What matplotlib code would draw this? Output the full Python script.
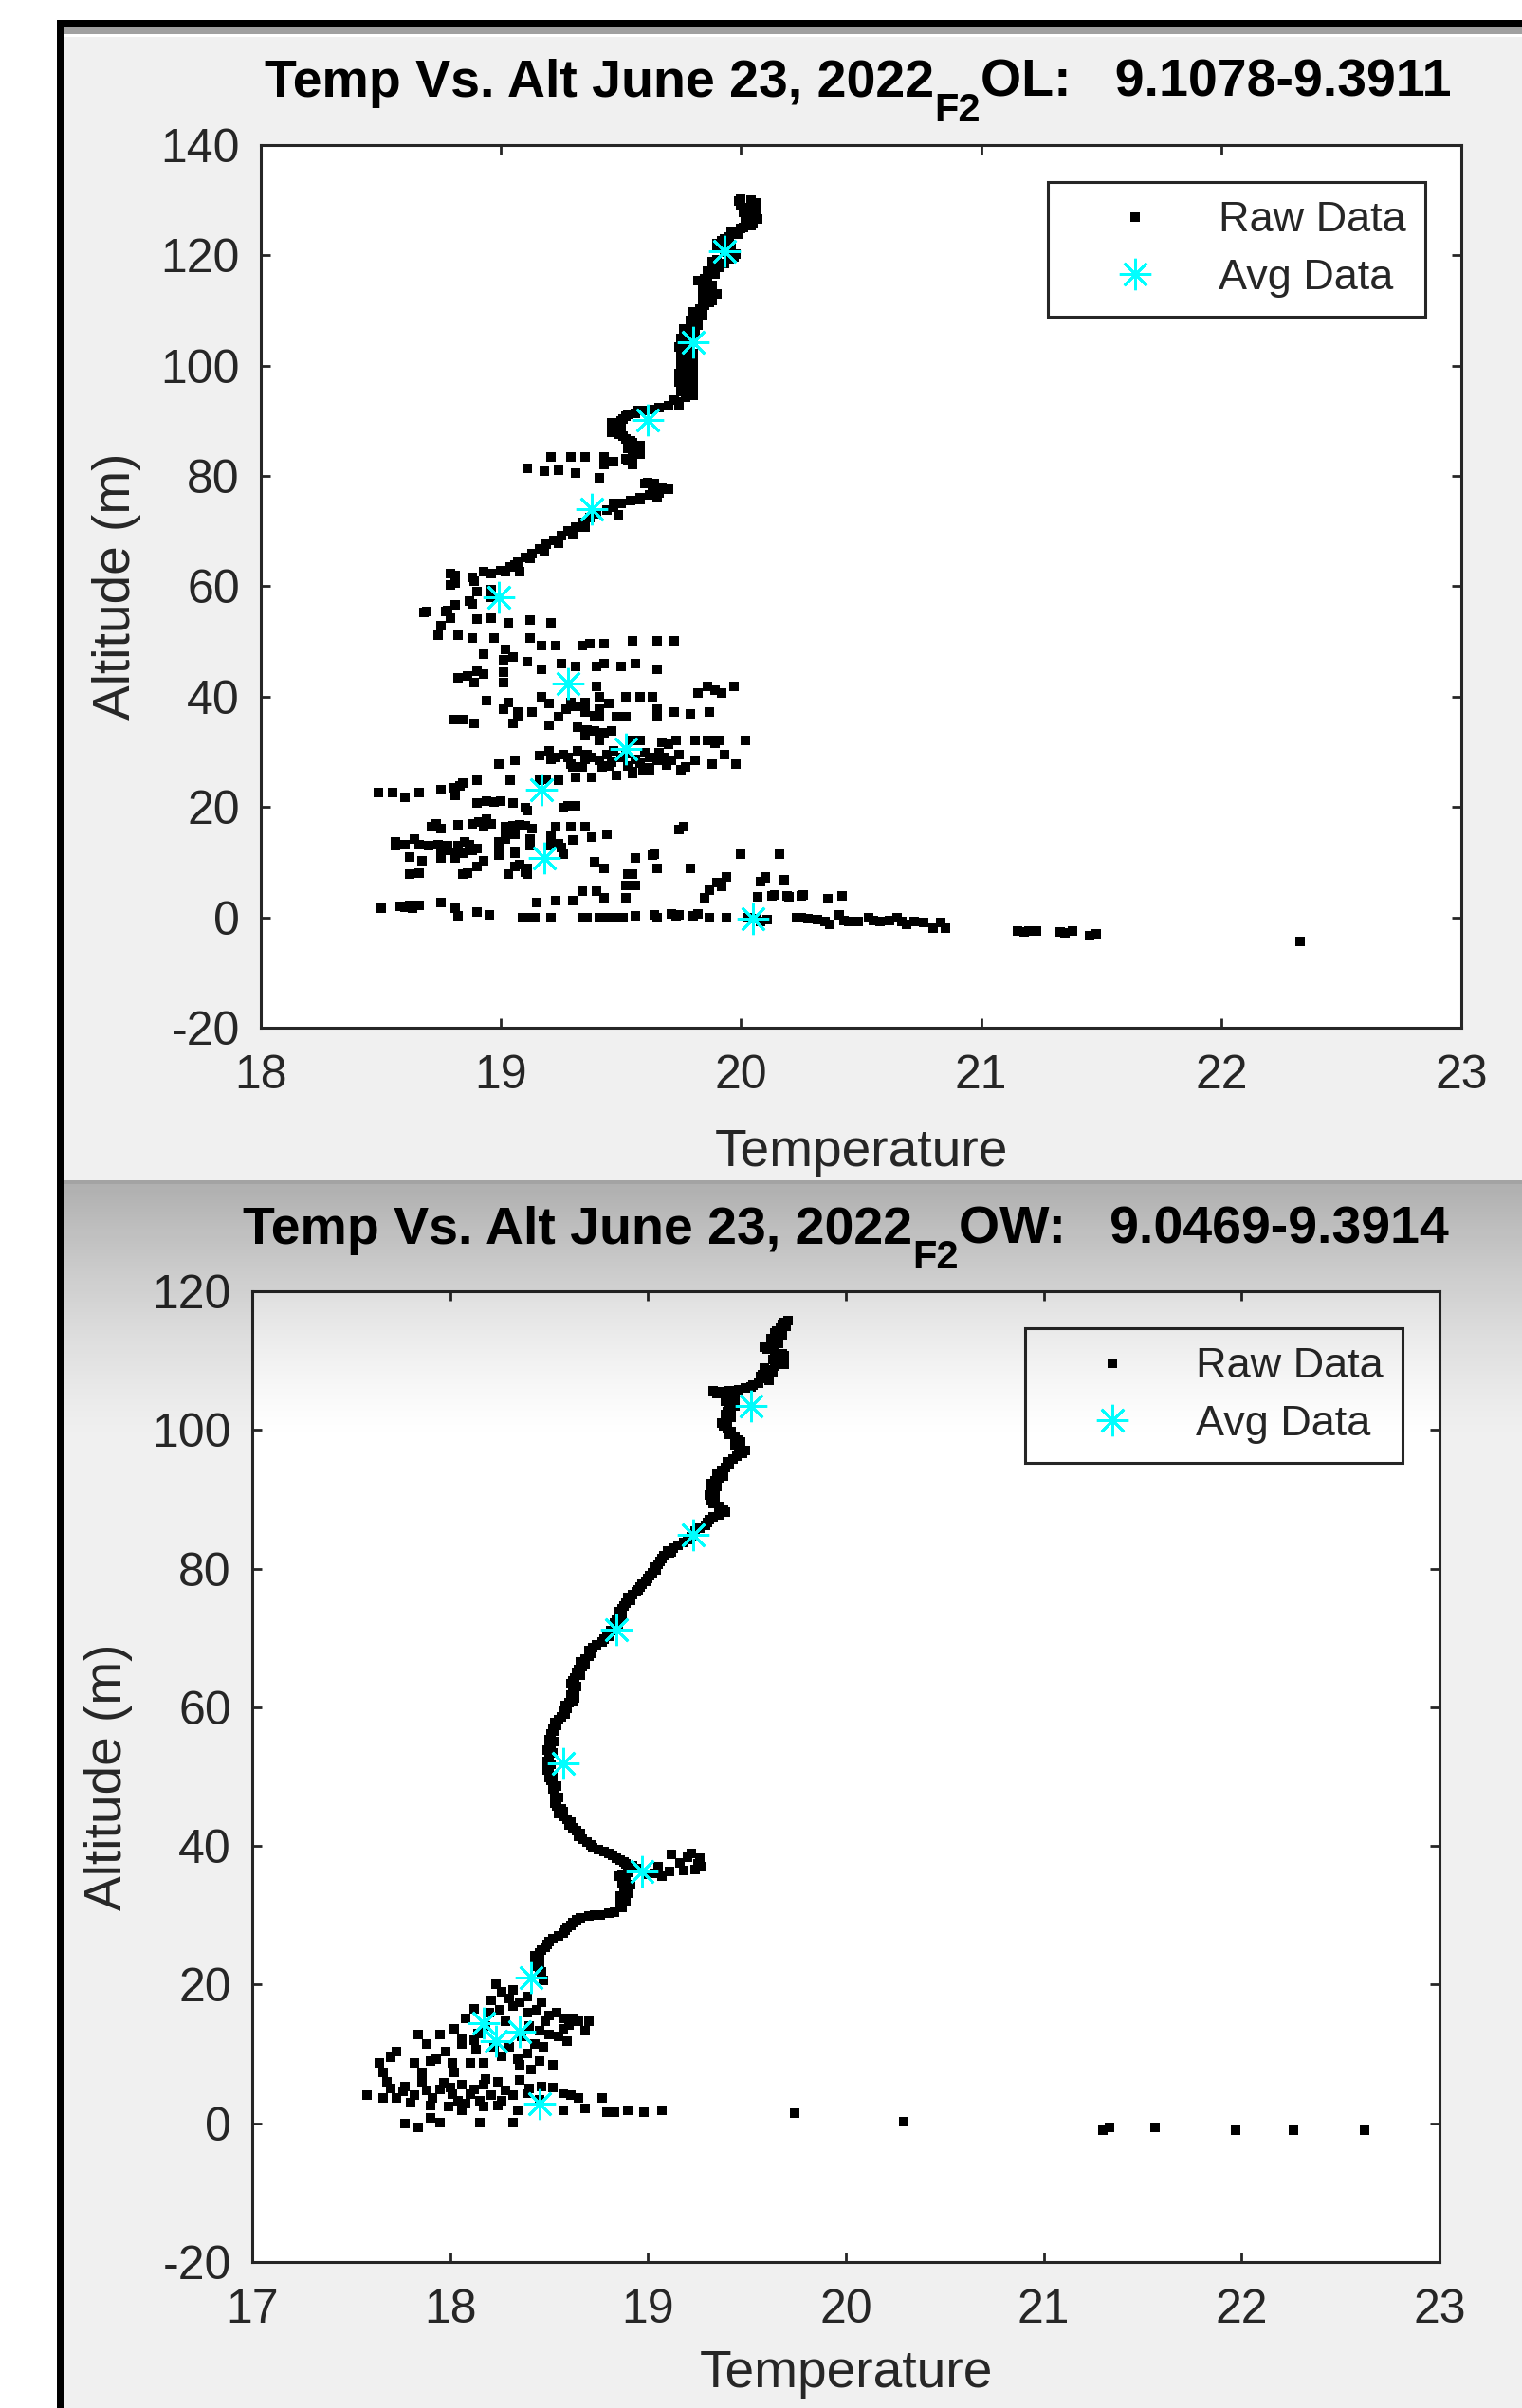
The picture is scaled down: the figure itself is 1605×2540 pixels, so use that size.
import matplotlib
matplotlib.use("Agg")
import matplotlib.pyplot as plt
from matplotlib.patches import Rectangle
from matplotlib.lines import Line2D
import numpy as np

# ---------------- DATA (Temperature, Altitude) ----------------
# Top panel (OL)
top_title_parts = ["Temp Vs. Alt June 23, 2022", "F2", "OL:   9.1078-9.3911"]
top_xticks = [18, 19, 20, 21, 22, 23]
top_yticks = [-20, 0, 20, 40, 60, 80, 100, 120, 140]

top_track = [(20.04,130.0),(20.06,129.6),(20.00,129.2),(20.03,128.6),(20.06,128.0),(20.05,127.2),(20.07,126.6),
    (20.02,126.0),(20.04,125.4),(20.00,124.8),(19.98,124.2),(19.95,123.4),(19.92,122.6),(19.96,122.0),(19.90,121.4),
    (19.94,120.6),(19.97,119.8),(19.90,119.2),(19.93,118.6),(19.88,118.0),(19.86,117.2),(19.89,116.6),(19.85,115.8),
    (19.84,115.0),(19.86,114.2),(19.88,113.4),(19.86,112.6),(19.88,111.8),(19.85,111.0),(19.83,110.2),(19.82,109.4),
    (19.82,108.6),(19.80,107.8),(19.80,107.0),(19.78,106.2),(19.80,105.4),(19.77,104.6),(19.79,103.8),(19.77,103.0),
    (19.80,102.2),(19.77,101.4),(19.79,100.6),(19.77,99.8),(19.79,99.0),(19.76,98.2),(19.78,97.4),(19.76,96.6),
    (19.79,95.8),(19.78,95.0),(19.77,94.2),(19.74,93.4),(19.70,92.8),(19.66,92.4),(19.60,91.8),(19.56,91.4),
    (19.52,90.8),(19.50,90.0),(19.48,89.2),(19.48,88.4),(19.49,87.6),(19.52,86.8),(19.55,86.0),(19.56,85.2),
    (19.56,84.4),(19.55,83.6),(19.53,82.8),
    (19.60,78.6),(19.63,78.2),(19.67,78.0),(19.70,77.6),(19.66,77.0),(19.62,76.6),(19.58,76.0),(19.54,75.6),
    (19.50,75.0),(19.47,74.4),(19.44,73.8),(19.40,73.2),(19.37,72.4),(19.34,71.6),(19.31,70.8),(19.28,70.0),
    (19.25,69.2),(19.22,68.4),(19.19,67.6),(19.16,66.8),(19.13,66.0),(19.10,65.2),(19.07,64.4),(19.04,63.6),
    (19.00,62.8),(18.96,62.4),(19.35,70.8),(19.30,69.4),(19.24,67.8),(19.18,66.4),(19.12,65.0),(19.06,63.8),
    (19.61,78.9),(19.58,75.7),(19.49,72.9)]

top_track_edge = [(20.00,130.2),(19.99,129.8),(20.05,129.0),(20.01,127.8),(20.02,127.0),(20.05,125.8),(20.01,125.0),
    (19.96,124.4),(19.99,123.8),(19.93,123.0),(19.90,122.2),(19.93,121.0),(19.98,120.2),(19.95,119.4),(19.88,118.8),
    (19.91,117.8),(19.88,117.0),(19.86,116.2),(19.82,115.4),(19.88,114.6),(19.84,113.6),(19.90,113.0),(19.84,112.2),
    (19.87,111.4),(19.84,110.6),(19.80,109.8),(19.84,109.0),(19.79,108.2),(19.82,107.4),(19.76,106.6),(19.81,105.8),
    (19.75,105.0),(19.80,104.2),(19.74,103.4),(19.78,102.6),(19.75,101.8),(19.80,101.0),(19.75,100.2),(19.80,99.4),
    (19.74,98.6),(19.80,97.8),(19.74,97.0),(19.80,96.2),(19.75,95.4),(19.80,94.6),(19.72,93.8),(19.74,92.9),
    (19.63,92.0),(19.57,91.9),(19.53,91.2),(19.51,90.4),(19.46,89.6),(19.50,88.8),(19.46,88.0),(19.51,87.2),
    (19.54,86.4),(19.58,85.6),(19.53,85.0),(19.58,84.0),(19.52,83.2)]

top_scatter = [(19.21,83.4),(19.29,83.4),(19.35,83.4),(19.43,83.4),(19.11,81.4),(19.18,80.9),(19.24,81.1),(19.31,80.6),
    (19.41,79.7),(19.43,82.0),(19.47,82.6),(19.55,82.0),(19.64,78.6),(19.65,76.3),(19.47,75.1),
    (18.81,62.0),(18.88,61.7),(18.93,62.6),(18.79,60.3),(18.90,59.1),(18.96,58.0),(18.88,56.9),(18.78,55.7),
    (18.69,55.4),(18.79,62.3),(19.02,62.6),(19.08,62.6),(18.81,60.6),(18.89,60.9),(18.96,59.4),(18.87,57.4),
    (18.81,56.6),(18.68,55.2),(18.77,55.4),(18.79,54.3),(18.90,54.0),(18.96,54.3),(19.03,53.3),(19.12,53.9),(19.21,53.3),
    (18.75,52.9),(18.74,51.2),(18.82,51.2),(18.88,50.7),(18.97,50.7),(19.12,50.7),
    (19.17,49.2),(19.23,49.2),(19.34,49.3),(19.37,49.6),(19.43,49.6),(19.55,50.1),(19.65,50.1),(19.72,50.1),
    (18.93,47.7),(19.02,48.6),(19.05,47.2),(19.01,46.6),(19.11,46.3),
    (19.17,45.0),(19.25,46.0),(19.31,45.5),(19.40,45.5),(19.43,46.0),(19.50,45.5),(19.56,46.0),(19.65,45.0),
    (18.90,44.6),(18.82,43.5),(18.89,42.6),(19.01,44.4),(19.01,42.5),(18.86,43.8),(18.93,44.1),
    (19.40,41.9),(19.82,40.6),(19.86,41.9),(19.92,40.6),(19.97,41.8),(19.89,41.2),
    (18.94,39.3),(19.03,38.9),(19.01,37.8),(19.17,39.9),(19.20,38.7),(19.27,37.8),(19.31,38.2),(19.35,38.9),
    (19.41,39.9),(19.41,37.8),(19.45,38.7),(19.52,39.9),(19.58,39.9),(19.63,39.9),(19.29,38.9),
    (19.07,37.2),(19.07,36.4),(19.13,37.2),(19.24,36.4),(19.35,37.2),(19.41,36.4),(19.52,36.4),(19.65,37.8),
    (19.65,36.4),(19.72,37.2),(19.79,36.8),(19.87,37.2),(19.48,36.4),(19.39,36.6),
    (18.80,35.8),(18.84,35.8),(18.89,35.2),(19.05,35.2),(19.20,34.8),
    (19.32,34.4),(19.39,33.8),(19.43,33.5),(19.46,33.8),(19.36,34.0),(19.35,32.9),(19.41,32.1),
    (19.55,32.1),(19.58,32.1),(19.67,31.8),(19.73,32.1),(19.81,32.1),(19.86,32.1),(19.91,32.1),(20.02,32.1),
    (19.88,32.1),(19.89,31.6),(19.70,31.4),
    (19.20,30.1),(19.26,29.5),(19.32,30.1),(19.38,28.9),(19.44,29.5),(19.50,28.9),(19.56,28.7),(19.62,28.9),
    (19.68,28.9),(19.74,29.5),(19.21,28.7),(19.29,27.8),(19.35,28.7),(19.41,28.4),(19.47,30.1),(19.53,27.5),
    (19.59,26.7),(19.65,28.4),(19.71,28.4),(19.77,27.2),(19.30,27.2),(19.42,27.2),(19.55,26.1),(19.75,26.7),
    (19.23,29.0),(19.28,28.9),(19.36,29.5),(19.46,28.2),(19.52,29.6),(19.60,29.8),(19.66,29.8),(19.58,27.9),
    (19.69,27.6),(19.16,29.3),(19.45,27.4),(19.34,27.3),(19.62,27.1),
    (18.99,27.8),(19.06,28.5),(19.81,28.5),(19.93,29.5),(19.88,27.8),(19.98,27.8),
    (18.90,24.8),(19.04,24.8),(19.24,24.8),(19.31,25.4),(19.38,25.4),(19.48,25.8),(19.55,26.4),(19.62,26.7),
    (19.16,24.9),(19.19,25.0),
    (18.49,22.7),(18.55,22.7),(18.60,21.7),(18.66,22.7),(18.75,23.2),(18.81,22.1),(18.83,23.8),(18.84,24.4),(18.80,23.4),
    (18.90,20.7),(18.94,21.0),(19.00,21.0),(19.05,20.7),(19.11,19.3),(19.26,19.9),(19.31,20.2),(18.97,20.9),
    (19.10,19.9),(19.28,20.3),
    (18.71,16.4),(18.75,16.1),(18.82,16.7),(18.88,16.9),(18.94,17.8),(18.93,16.4),(19.02,16.5),(19.08,16.7),
    (19.13,16.1),(19.23,16.5),(19.29,16.5),(19.35,16.5),(19.74,16.0),(18.91,17.3),(18.96,16.9),(19.05,16.6),
    (19.10,16.6),(18.73,16.9),(19.76,16.4),
    (19.02,15.0),(19.06,15.0),(19.21,14.8),(19.38,14.6),(19.44,15.0),(19.02,14.2),
    (18.56,13.6),(18.56,13.0),(18.64,14.2),(18.70,13.0),(18.78,13.0),(18.85,13.6),(18.90,12.4),(18.99,13.0),
    (19.06,11.9),(19.12,14.2),(19.21,13.0),(19.25,12.7),(19.30,14.0),(19.12,13.0),(18.60,13.2),(18.66,13.1),
    (18.74,13.2),(18.82,13.0),(18.87,13.1),(18.99,13.6),(19.24,13.4),
    (18.75,11.6),(18.81,11.6),(18.84,11.6),(18.99,11.3),(19.06,11.6),(18.78,12.1),(18.88,12.2),
    (18.62,11.0),(18.67,10.2),(18.75,10.7),(18.81,10.7),(18.93,10.2),(18.90,9.3),(19.06,9.3),(19.11,8.8),
    (19.26,11.4),(19.39,10.0),(19.43,8.8),(19.56,10.8),(19.63,11.2),(19.65,8.8),(19.79,8.8),(20.00,11.4),
    (20.16,11.4),(19.64,11.4),(19.08,9.6),
    (18.62,7.9),(18.84,7.9),(19.03,7.9),(19.11,7.9),(19.53,7.9),(18.66,8.0),(18.86,8.0),(19.10,8.2),(19.55,7.9),
    (19.34,4.7),(19.40,4.7),(19.43,3.6),(19.52,3.6),(19.52,5.8),(19.56,5.8),(19.85,3.6),(19.87,5.0),(19.92,5.6),
    (19.94,7.3),(20.08,6.5),(20.10,7.3),(20.18,6.8),(20.20,3.8),(20.26,4.1),(20.07,3.8),(20.14,4.1),(20.13,3.9),
    (20.19,3.9),(20.25,3.9),(20.36,3.3),(20.42,3.9),(20.10,7.1),(20.18,6.6),(19.90,6.3),
    (19.15,2.7),(19.23,3.0),(19.30,3.0),
    (18.50,1.6),(18.58,2.0),(18.63,1.6),(18.66,2.2),(18.75,2.6),(18.81,1.6),(18.82,0.2),(18.90,1.0),(18.95,0.5),
    (18.60,1.8),(18.62,2.1)]

top_surface = [(19.09,0.0),(19.14,0.0),(19.21,0.0),(19.34,0.0),(19.41,0.0),(19.47,0.0),(19.51,0.0),(19.56,0.2),
    (19.64,0.5),(19.65,-0.1),(19.71,0.7),(19.74,0.5),(19.80,0.2),(19.82,0.7),(19.87,0.0),(19.94,0.0),(20.03,0.0),
    (20.08,-0.7),(20.11,-0.4),(20.23,0.0),(19.11,0.0),(19.36,0.0),(19.44,0.0),(19.49,0.0),(19.73,0.2),(20.06,-0.3),
    (20.25,-0.1),(20.32,-0.4),(20.37,-1.3),(20.41,0.4),(20.45,-0.7),(20.49,-0.7),(20.53,-0.1),(20.58,-0.7),
    (20.65,-0.1),(20.69,-1.3),(20.72,-0.7),(20.80,-1.9),(20.85,-1.9),(20.83,-1.0),(20.28,-0.2),(20.35,-0.8),
    (20.43,-0.5),(20.55,-0.6),(20.62,-0.5),(20.67,-0.8),(20.76,-1.0),
    (21.20,-2.4),(21.15,-2.4),(21.23,-2.4),(21.33,-2.6),(21.38,-2.4),(21.45,-3.4),(21.48,-3.0),(22.33,-4.4),
    (21.35,-2.9),(21.18,-2.6)]

top_avg_T = [19.93, 19.80, 19.61, 19.38, 18.99, 19.28, 19.52, 19.17, 19.18, 20.05]
top_avg_A = [120.8, 104.3, 90.1, 74.0, 58.0, 42.3, 30.5, 23.1, 10.8, -0.3]

# Bottom panel (OW)
bot_title_parts = ["Temp Vs. Alt June 23, 2022", "F2", "OW:   9.0469-9.3914"]
bot_xticks = [17, 18, 19, 20, 21, 22, 23]
bot_yticks = [-20, 0, 20, 40, 60, 80, 100, 120]

bot_track = [(19.71,115.7),(19.68,115.2),(19.67,114.6),(19.64,114.0),(19.65,113.4),(19.62,112.8),(19.63,112.2),
    (19.60,111.6),(19.68,111.0),(19.66,110.4),(19.67,109.8),(19.64,109.2),(19.61,108.6),(19.58,108.0),(19.60,107.4),
    (19.56,106.8),(19.52,106.2),(19.46,105.8),(19.37,105.5),(19.33,105.6),(19.40,105.0),(19.44,104.4),(19.41,103.8),
    (19.42,103.0),(19.39,102.2),(19.40,101.4),(19.38,100.6),(19.42,99.8),(19.44,99.0),(19.47,98.2),(19.46,97.4),
    (19.48,96.6),(19.43,95.8),(19.41,95.0),(19.37,94.2),(19.38,93.4),(19.34,92.6),(19.35,91.8),(19.32,91.0),
    (19.34,90.2),(19.33,89.4),(19.38,88.6),(19.36,87.8),(19.31,87.0),(19.29,86.2),(19.24,85.4),(19.22,84.6),
    (19.18,83.8),(19.13,83.0),(19.10,82.6),(19.11,82.2),(19.07,81.4),(19.05,80.6),(19.04,79.8),(19.01,79.0),
    (18.99,78.2),(18.96,77.4),(18.94,76.6),(18.90,75.8),(18.89,75.0),(18.87,74.2),(18.86,73.4),(18.84,72.6),
    (18.85,71.8),(18.81,71.0),(18.80,70.2),(18.77,69.4),(18.72,68.6),(18.71,67.8),(18.68,67.0),(18.68,66.2),
    (18.65,65.4),(18.66,64.6),(18.62,63.8),(18.64,63.0),(18.62,62.2),(18.63,61.4),(18.60,60.6),(18.59,59.8),
    (18.58,59.0),(18.55,58.2),(18.54,57.4),(18.53,56.6),(18.51,55.8),(18.53,55.0),(18.50,54.2),(18.52,53.4),
    (18.50,52.6),(18.51,51.8),(18.49,51.0),(18.52,50.2),(18.51,49.4),(18.54,48.6),(18.53,47.8),(18.55,47.0),
    (18.53,46.2),(18.56,45.4),(18.55,44.6),(18.59,43.8),(18.60,43.0),(18.64,42.2),(18.65,41.4),(18.69,40.6),
    (18.72,39.8),(18.78,39.2),(18.82,38.6),(18.86,38.0),(18.89,37.4),(18.94,36.8),(18.90,36.2),(18.85,35.6),
    (18.89,35.0),(18.91,34.4),(18.88,33.6),(18.86,32.8),(18.89,32.0),(18.87,31.2),(18.83,30.4),(18.76,30.1),
    (18.70,29.9),(18.64,29.4),(18.61,28.6),(18.58,27.8),(18.55,27.0),(18.50,26.2),(18.48,25.4),(18.45,24.6),
    (18.44,23.8),(18.43,23.0),(18.45,22.2),(18.46,21.4),(18.47,20.6),
    (19.12,38.8),(19.20,38.4),(19.25,37.4),(19.18,36.5),(19.11,36.3),(19.27,37.0),(19.03,36.1),(19.07,35.6),
    (19.16,37.6),(19.22,38.9),(19.24,36.6),(19.05,37.0),(18.99,35.9),(19.26,38.3)]

bot_track_edge = [(19.69,115.5),(19.70,114.9),(19.65,114.3),(19.68,113.7),(19.62,113.1),(19.66,112.5),(19.59,111.9),
    (19.64,111.3),(19.69,110.7),(19.63,110.1),(19.69,109.5),(19.59,108.9),(19.63,108.3),(19.57,107.7),(19.61,107.1),
    (19.53,106.5),(19.49,106.0),(19.41,105.7),(19.35,105.2),(19.43,104.7),(19.39,104.1),(19.44,103.4),(19.40,102.6),
    (19.42,101.8),(19.37,101.0),(19.40,100.2),(19.41,99.4),(19.46,98.6),(19.44,97.8),(19.49,97.0),(19.45,96.2),
    (19.40,95.4),(19.39,94.6),(19.35,93.8),(19.36,93.0),(19.32,92.2),(19.34,91.4),(19.31,90.6),(19.32,89.8),
    (19.36,89.0),(19.39,88.2),(19.33,87.4),(19.30,86.6),(19.26,85.8),(19.23,85.0),(19.20,84.2),(19.15,83.4),
    (19.12,82.4),(19.08,81.8),(19.06,81.0),(19.03,80.2),(19.02,79.4),(19.00,78.6),(18.97,77.8),(18.95,77.0),
    (18.92,76.2),(18.91,75.4),(18.88,74.6),(18.85,73.8),(18.87,73.0),(18.83,72.2),(18.83,71.4),(18.79,70.6),
    (18.78,69.8),(18.74,69.0),(18.70,68.2),(18.70,67.4),(18.66,66.6),(18.67,65.8),(18.64,65.0),(18.63,64.2),
    (18.61,63.4),(18.63,62.6),(18.61,61.8),(18.62,61.0),(18.58,60.2),(18.57,59.4),(18.56,58.6),(18.53,57.8),
    (18.52,57.0),(18.51,56.2),(18.50,55.4),(18.51,54.6),(18.49,53.8),(18.50,53.0),(18.49,52.2),(18.49,51.4),
    (18.50,50.6),(18.50,49.8),(18.52,49.0),(18.52,48.2),(18.53,47.4),(18.54,46.6),(18.54,45.8),(18.57,45.0),
    (18.57,44.2),(18.61,43.4),(18.62,42.6),(18.66,41.8),(18.67,41.0),(18.71,40.2),(18.75,39.5),(18.80,38.9),
    (18.84,38.3),(18.88,37.7),(18.92,37.1),(18.87,35.8),(18.87,34.7),(18.90,33.2),(18.88,32.4),(18.86,31.6),
    (18.80,30.3),(18.73,30.0),(18.66,29.6),(18.62,29.0),(18.59,28.2),(18.57,27.4),(18.52,26.6),(18.49,25.8),
    (18.46,25.0),(18.43,24.2),(18.45,23.4),(18.44,22.6),(18.46,21.8)]

bot_cluster = [(18.23,20.1),(18.32,19.2),(18.39,18.3),(18.21,17.8),(18.32,16.9),(18.46,17.4),(18.12,16.5),
    (18.39,16.0),(18.54,16.0),(18.08,15.1),(18.28,14.7),(18.48,14.7),(18.57,15.1),(18.65,14.7),(18.70,14.7),
    (18.68,13.3),(18.57,13.7),(18.50,12.8),(18.59,11.9),(18.43,11.5),(18.02,13.7),(17.95,12.8),(17.84,12.8),
    (17.88,11.5),(18.06,11.5),(18.13,10.6),(17.73,10.3),(18.39,10.1),(18.26,9.7),(18.17,8.7),(18.10,8.7),
    (18.01,8.7),(17.93,9.2),(17.82,8.7),(17.64,8.7),(17.66,7.4),(17.86,7.4),(18.02,7.4),(18.35,8.5),(18.52,8.5),
    (18.41,7.8),(17.68,6.0),(17.77,5.3),(17.86,6.0),(17.97,5.8),(18.06,5.5),(18.17,5.5),(18.24,6.0),(18.35,6.2),
    (18.46,5.3),(17.58,4.0),(17.66,3.7),(17.73,3.7),(17.82,4.0),(17.91,3.7),(18.01,4.2),(18.10,4.2),(18.21,4.0),
    (18.32,4.0),(18.39,4.4),(18.57,4.4),(18.65,3.7),(18.77,3.7),(17.90,2.6),(17.99,2.4),(18.06,1.9),(18.17,2.4),
    (18.24,2.6),(18.34,1.9),(18.57,1.9),(18.68,2.1),(18.79,1.6),(18.83,1.6),(18.90,1.9),(18.98,1.6),(19.07,1.9),
    (19.74,1.4),(17.77,-0.1),(17.84,-0.6),(17.90,0.8),(17.95,0.1),(18.15,0.1),(18.32,0.1),
    (18.26,18.9),(18.30,18.0),(18.35,17.5),(18.25,16.4),(18.20,15.9),(18.44,16.4),(18.50,15.5),(18.62,15.2),
    (18.40,14.0),(18.45,13.4),(18.60,14.2),(18.36,12.6),(18.14,13.0),(18.06,12.2),(18.30,11.0),(18.47,11.0),
    (18.55,12.5),(18.18,14.0),(18.12,12.0),(18.22,10.9),(18.34,9.2),(18.45,9.0),(17.90,9.0),(17.70,9.5),
    (17.98,10.3),(17.88,4.8),(17.95,4.9),(18.00,5.1),(18.12,4.9),(18.15,3.3),(18.04,3.2),(18.28,4.8),(18.40,5.0),
    (18.52,5.2),(18.61,4.0),(17.76,4.6),(17.70,5.0),(18.08,2.9),(18.26,3.3),(18.18,6.4),(17.80,3.0),(18.45,3.4)]

bot_outliers = [(20.29,0.2),(21.30,-1.0),(21.33,-0.6),(21.56,-0.6),(21.97,-1.0),(22.26,-1.0),(22.62,-1.0)]

bot_avg_T = [19.52, 19.23, 18.84, 18.57, 18.97, 18.41, 18.17, 18.35, 18.23, 18.45]
bot_avg_A = [103.5, 84.8, 71.2, 51.9, 36.3, 21.0, 14.4, 13.2, 11.9, 2.8]

legend_labels = ["Raw Data", "Avg Data"]

# ---------------- STYLE ----------------
plt.rcParams['font.family'] = ['Liberation Sans', 'DejaVu Sans']
plt.rcParams['axes.unicode_minus'] = False

W, H = 1605, 2540
fig = plt.figure(figsize=(W / 100, H / 100), dpi=100)
fig.patch.set_facecolor('white')

AX_COL = '#262626'
BG = '#f0f0f0'
RAW_MS = 6.5


def rect(x0, y0, x1, y1, color, z=-5):
    fig.add_artist(Rectangle((x0 / W, 1 - y1 / H), (x1 - x0) / W, (y1 - y0) / H,
                             transform=fig.transFigure, facecolor=color,
                             edgecolor='none', zorder=z))


# window chrome
rect(68, 37, W, H, BG)
rect(68, 29, W, 36, '#a0a0a0')
rect(68, 36, W, 39, '#ffffff')
rect(60, 21, W, 29, '#000000')
rect(60, 21, 68, H, '#000000')
rect(68, 1245, W, 1249, '#a3a3a3')


def make_axes(box, xlim, ylim, xticks, yticks):
    x0, y0, x1, y1 = box
    ax = fig.add_axes([x0 / W, 1 - y1 / H, (x1 - x0) / W, (y1 - y0) / H])
    ax.set_facecolor('white')
    ax.set_xlim(*xlim)
    ax.set_ylim(*ylim)
    ax.set_xticks(xticks)
    ax.set_yticks(yticks)
    for s in ax.spines.values():
        s.set_color(AX_COL)
        s.set_linewidth(2.2)
    ax.tick_params(direction='in', length=7.5, width=2.0, color=AX_COL,
                   labelsize=36, labelcolor=AX_COL, top=True, right=True)
    ax.tick_params(axis='x', pad=20)
    ax.tick_params(axis='y', pad=16)
    return ax


def plot_panel(ax, groups, avg_T, avg_A):
    for g in groups:
        T = [p[0] for p in g]
        A = [p[1] for p in g]
        ax.plot(T, A, ls='none', marker='s', ms=RAW_MS, mew=0, color='black', zorder=3)
    ax.plot(avg_T, avg_A, ls='none', marker=(8, 2, 0), ms=24, mew=2.0,
            color='#00ffff', zorder=4)


def add_legend(ax, anchor):
    h1 = Line2D([], [], ls='none', marker='s', ms=7.5, mew=0, color='black')
    h2 = Line2D([], [], ls='none', marker=(8, 2, 0), ms=24, mew=2.0, color='#00ffff')
    leg = ax.legend([h1, h2], legend_labels, loc='upper right', bbox_to_anchor=anchor,
                    fontsize=32.4, frameon=True, fancybox=False, framealpha=1,
                    edgecolor=AX_COL, borderaxespad=0, borderpad=0.45,
                    labelspacing=0.43, handlelength=3.2, handletextpad=0.35,
                    numpoints=1)
    leg.get_frame().set_linewidth(2.2)
    for t in leg.get_texts():
        t.set_color(AX_COL)
    return leg


def compose_title(cx, base_y, parts, size=40.0, sub_size=30.0, sub_drop=26):
    r = fig.canvas.get_renderer()
    specs = [(parts[0], size, 0), (parts[1], sub_size, sub_drop), (parts[2], size, 0)]
    texts, widths = [], []
    for s, fs, dy in specs:
        t = fig.text(0, 0, s, fontsize=fs, fontweight='bold', color='black',
                     ha='left', va='baseline')
        widths.append(t.get_window_extent(r).width)
        texts.append(t)
    x = cx - sum(widths) / 2
    for t, w, (s, fs, dy) in zip(texts, widths, specs):
        t.set_position((x / W, 1 - (base_y + dy) / H))
        x += w


# top axes
ax1 = make_axes((275, 153, 1541, 1084), (18, 23), (-20, 140), top_xticks, top_yticks)
plot_panel(ax1, [top_track, top_track_edge, top_scatter, top_surface], top_avg_T, top_avg_A)
add_legend(ax1, ((1503 - 275) / 1266, 1 - (192 - 153) / 931))
ax1.set_xlabel('Temperature', fontsize=39.6, color=AX_COL, va='top')
ax1.xaxis.set_label_coords(0.5, -(1190 - 1084) / 931)
ax1.set_ylabel('Altitude (m)', fontsize=39.6, color=AX_COL, va='center')
ax1.yaxis.set_label_coords((123 - 275) / 1266, 0.5)
compose_title(905, 102, top_title_parts)

# bottom axes
ax2 = make_axes((266, 1362, 1518, 2386), (17, 23), (-20, 120), bot_xticks, bot_yticks)
plot_panel(ax2, [bot_track, bot_track_edge, bot_cluster, bot_outliers], bot_avg_T, bot_avg_A)
add_legend(ax2, ((1479 - 266) / 1252, 1 - (1401 - 1362) / 1024))
ax2.set_xlabel('Temperature', fontsize=39.6, color=AX_COL, va='top')
ax2.xaxis.set_label_coords(0.5, -(2478 - 2386) / 1024)
ax2.set_ylabel('Altitude (m)', fontsize=39.6, color=AX_COL, va='center')
ax2.yaxis.set_label_coords((114 - 266) / 1252, 0.5)
compose_title(892, 1312, bot_title_parts)

# shadow gradient below the window separator
ov = fig.add_axes([68 / W, 1 - 1525 / H, (W - 68) / W, (1525 - 1249) / H], zorder=10)
ov.axis('off')
n = 276
t = np.linspace(0, 1, n)
img = np.zeros((n, 1, 4))
img[:, 0, 3] = 0.27 * (1 - t) ** 1.4
ov.imshow(img, aspect='auto', extent=(0, 1, 0, 1), origin='upper', interpolation='bilinear')
ov.set_xlim(0, 1)
ov.set_ylim(0, 1)

fig.savefig('out.png', dpi=100, facecolor=fig.get_facecolor())
